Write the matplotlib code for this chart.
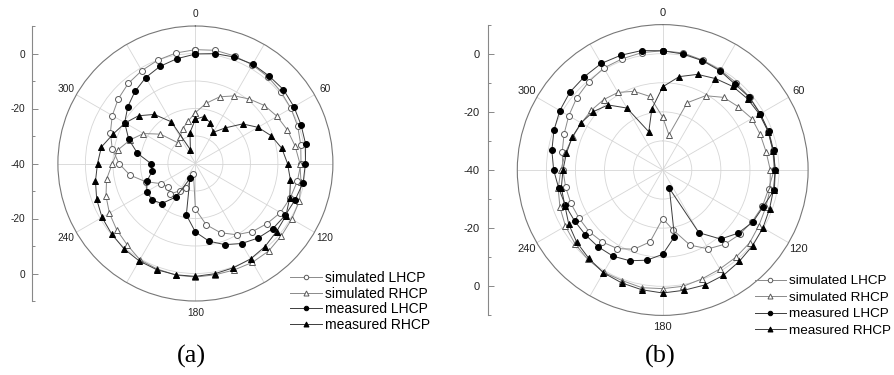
import numpy as np
import matplotlib
matplotlib.use("Agg")
import matplotlib.pyplot as plt

plt.rcParams['font.family'] = ['Liberation Sans', 'DejaVu Sans']

# Azimuth angles of the pattern cuts (degrees)
angles = list(range(0, 360, 10))

# (a) normalised gain, dB
a_sim_lhcp = [1.4, 1.8, 1.6, 1.4, 1.1, 0.6, 0.1, -0.4, -1.1, -1.6, -2.4, -3.3,
              -4.3, -6.0, -7.7, -10.1, -13.2, -17.4, -23.4, -36.0, -30.5, -28.5,
              -25.5, -26.9, -25.4, -20.7, -15.8, -12.2, -9.3, -7.1, -5.1, -3.4,
              -2.0, -1.0, 0.0, 0.8]
a_sim_rhcp = [-21.5, -17.8, -14.2, -11.6, -9.4, -7.2, -5.7, -4.4, -3.2, -2.0, -1.0, 0.2,
              0.45, 0.85, 1.5, 1.5, 1.2, 1.1, 1.3, 1.2, 0.8, 0.4,
              -1.4, -2.6, -3.9, -5.4, -7.2, -9.8, -11.4, -14.8, -18.2, -23.4,
              -30.2, -28.8, -26.5, -24.4]
a_meas_lhcp = [-0.2, 0.6, 1.2, 1.7, 1.6, 1.8, 1.35, 0.9, 0.7, 0.0, -0.2, -1.4,
               -2.3, -3.2, -4.6, -6.4, -8.6, -11.3, -15.1, -21.0, -34.2, -26.0,
               -21.0, -19.4, -19.6, -21.2, -24.1, -23.8, -18.6, -14.2, -10.3, -7.9,
               -5.8, -3.9, -2.4, -1.3]
a_meas_rhcp = [-23.9, -22.7, -24.2, -26.9, -23.1, -17.6, -13.7, -10.6, -8.1, -6.5, -4.9, -3.5,
               -2.0, -1.5, -0.6, 0.1, 0.35, 0.7, 1.05, 1.1, 1.1, 0.9,
               0.45, -0.2, -0.8, -1.8, -3.1, -4.4, -5.3, -8.3, -10.5, -13.0,
               -16.7, -22.5, -34.7, -28.6]

# (b) normalised gain, dB
b_sim_lhcp = [1.0, 0.85, 0.2, -0.3, -0.8, -1.0, -1.2, -1.4, -1.5, -1.7, -3.0, -3.5,
              -4.5, -5.5, -6.7, -8.7, -12.5, -19.0, -23.3, -14.9, -11.0, -8.8,
              -7.7, -7.0, -6.8, -6.4, -6.1, -5.7, -4.9, -3.9, -2.7, -1.4,
              -0.4, 0.5, 0.7, 1.0]
b_sim_rhcp = [-21.8, -27.7, -15.4, -10.5, -7.4, -6.1, -4.6, -4.3, -3.9, -3.0, -2.5, -2.3,
              -1.8, -1.0, -0.85, -0.7, -0.2, 0.6, 0.8, 1.1, 0.5, 0.6,
              0.1, -0.6, -1.4, -2.4, -3.5, -5.0, -6.0, -7.0, -7.7, -8.0,
              -8.4, -9.2, -11.2, -14.3]
b_meas_lhcp = [1.0, 0.5, 0.0, -0.6, -1.4, -1.1, -1.3, -1.2, -1.3, -1.3, -1.0, -3.2,
               -4.2, -6.2, -9.0, -15.1, -33.3, -16.7, -11.0, -8.5, -6.8, -5.8,
               -5.5, -5.3, -5.0, -4.4, -3.7, -2.5, -1.3, -0.2, 0.85, 1.65,
               1.9, 2.3, 2.0, 1.7]
b_meas_rhcp = [-11.4, -7.4, -5.0, -3.7, -2.5, -1.9, -1.6, -1.4, -1.5, -1.3, -1.3, -0.9,
               -0.2, 0.4, 1.0, 1.8, 2.1, 2.0, 2.3, 1.8, 1.3, 0.8,
               -0.4, -1.4, -2.7, -4.2, -4.6, -5.7, -6.4, -6.9, -7.6, -8.8,
               -10.8, -15.4, -26.0, -18.6]

series_names = ['simulated LHCP', 'simulated RHCP', 'measured LHCP', 'measured RHCP']
r_ticks = [-40, -20, 0, 20, 40]
r_tick_labels = ['0', '-20', '-40', '-20', '0']
theta_labels = ['0', '', '60', '', '120', '', '180', '', '240', '', '300', '']

W, H = 895, 375
fig = plt.figure(figsize=(W / 100, H / 100), dpi=100)

SIM_LINE = '#8a8a8a'
SIM_EDGE = '#5a5a5a'
MEAS_LINE = '#3c3c3c'

styles = [
    dict(color=SIM_LINE, marker='o', mfc='white', mec=SIM_EDGE, ms=4.3, mew=0.7),
    dict(color=SIM_LINE, marker='^', mfc='white', mec=SIM_EDGE, ms=4.8, mew=0.7),
    dict(color=MEAS_LINE, marker='o', mfc='black', mec='black', ms=4.3, mew=0.7),
    dict(color=MEAS_LINE, marker='^', mfc='black', mec='black', ms=4.8, mew=0.7),
]


def closed(vals):
    th = np.deg2rad(angles + [angles[0]])
    return th, list(vals) + [vals[0]]


def panel(cx, cy, R, data, fs_tick, fs_leg, leg_anchor, leg_spacing,
          tag, tag_xy, axis_x, scale_pad):
    ax = fig.add_axes([(cx - R) / W, (H - (cy + R)) / H, 2 * R / W, 2 * R / H],
                      projection='polar')
    ax.set_theta_zero_location('N')
    ax.set_theta_direction(-1)
    ax.set_rlim(-40, 10)
    ax.set_yticks([-30, -20, -10, 0])
    ax.set_yticklabels([''] * 4)
    ax.set_xticks(np.deg2rad(np.arange(0, 360, 30)))
    ax.set_xticklabels(theta_labels)
    ax.tick_params(axis='x', labelsize=fs_tick, pad=-2, colors='#222222')
    ax.grid(True, color='#d6d6d6', lw=0.6)
    ax.spines['polar'].set_color('#777777')
    ax.spines['polar'].set_linewidth(0.8)

    handles = []
    for vals, st in zip(data, styles):
        th, rr = closed(vals)
        h, = ax.plot(th, rr, lw=0.7, **st)
        handles.append(h)

    fig.legend(handles, series_names, loc='upper left',
               bbox_to_anchor=(leg_anchor[0] / W, 1 - leg_anchor[1] / H),
               frameon=False, fontsize=fs_leg, handlelength=2.3,
               handletextpad=0.25, labelspacing=leg_spacing, borderpad=0,
               borderaxespad=0, markerscale=0.75)

    # vertical dB scale to the left of the polar plot
    sx = fig.add_axes([axis_x / W, (H - (cy + R)) / H, 0.001, 2 * R / H])
    sx.set_ylim(-50, 50)
    sx.set_xticks([])
    for s in ('top', 'right', 'bottom'):
        sx.spines[s].set_visible(False)
    sx.spines['left'].set_color('#888888')
    sx.spines['left'].set_linewidth(0.8)
    sx.set_yticks(r_ticks)
    sx.set_yticklabels(r_tick_labels)
    sx.set_yticks([-50, -30, -10, 10, 30, 50], minor=True)
    sx.tick_params(axis='y', which='major', direction='in', length=4, width=0.7,
                   color='#888888', labelsize=fs_tick, labelcolor='#222222',
                   pad=scale_pad)
    sx.tick_params(axis='y', which='minor', direction='in', length=2.5, width=0.7,
                   color='#888888')
    sx.patch.set_visible(False)

    fig.text(tag_xy[0] / W, 1 - tag_xy[1] / H, tag, ha='center', va='center',
             family='Liberation Serif', fontsize=19)


panel(195.4, 163.5, 137.5, [a_sim_lhcp, a_sim_rhcp, a_meas_lhcp, a_meas_rhcp],
      7.3, 10, (290, 271), 0.12, '(a)', (191, 356), 31.7, 4.5)
panel(662.7, 170.0, 145.4, [b_sim_lhcp, b_sim_rhcp, b_meas_lhcp, b_meas_rhcp],
      8.0, 9.7, (755, 275), 0.3, '(b)', (660, 356), 488.3, 6.5)

fig.savefig('out.png', dpi=100, facecolor='white')
